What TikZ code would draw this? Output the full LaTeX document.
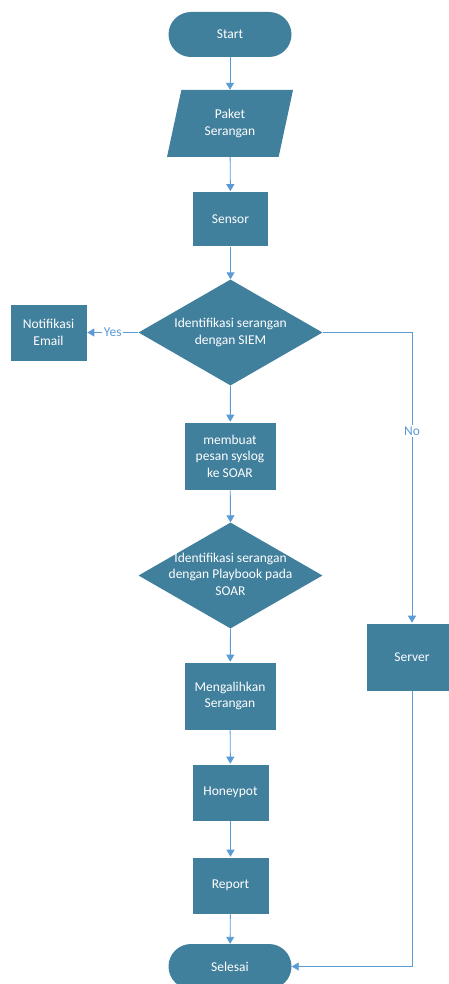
\documentclass[tikz,border=0pt]{standalone}
\usepackage{fontspec}
\setmainfont{Carlito}
\usetikzlibrary{shapes.geometric,arrows.meta}
\definecolor{boxfill}{HTML}{41809D}
\definecolor{flowline}{HTML}{5B9BD5}
\begin{document}
\begin{tikzpicture}[x=1pt,y=-1pt,
  every node/.style={font=\fontsize{13.5}{16.5}\selectfont, text=white, align=center, inner sep=0pt},
  terminal/.style={fill=boxfill, rounded corners=22.5pt, minimum width=123pt, minimum height=45pt},
  procbox/.style={fill=boxfill, draw=white, line width=0.6pt},
  iobox/.style={trapezium, trapezium left angle=63, trapezium right angle=117, trapezium stretches body,
    fill=boxfill, minimum width=126pt, minimum height=67pt},
  decision/.style={diamond, fill=boxfill, minimum width=184pt, minimum height=106pt},
  flow/.style={draw=flowline, line width=0.9pt, -{Triangle[width=8pt,length=7pt]}},
  tag/.style={text=flowline, fill=white, inner sep=1.5pt}
]
\useasboundingbox (0,0) rectangle (449,984);

\node[terminal] (start) at (230,34.5) {Start};
\node[iobox] (paket) at (230,123.5) {Paket\\Serangan};
\node[procbox, minimum width=76pt, minimum height=55pt] (sensor) at (230.5,219) {Sensor};
\node[decision] (d1) at (230.5,332.5) {};
\node (d1text) at (230.5,332.5) {Identifikasi serangan\\dengan SIEM};
\node[procbox, minimum width=77pt, minimum height=57pt] (notif) at (48.5,332.5) {Notifikasi\\Email};
\node[procbox, minimum width=92pt, minimum height=68pt] (syslog) at (230,456) {membuat\\pesan syslog\\ke SOAR};
\node[decision] (d2) at (230.5,575.5) {};
\node (d2text) at (230.5,574) {Identifikasi serangan\\dengan Playbook pada\\SOAR};
\node[procbox, minimum width=92pt, minimum height=68pt] (divert) at (230,696) {Mengalihkan\\Serangan};
\node[procbox, minimum width=77pt, minimum height=57pt] (honey) at (230.5,792.5) {Honeypot};
\node[procbox, minimum width=77pt, minimum height=57pt] (report) at (230.5,885.5) {Report};
\node[terminal] (end) at (230,966.5) {Selesai};
\node[procbox, minimum width=92pt, minimum height=68pt] (server) at (412,657) {Server};

\draw[flow] (start) -- (paket);
\draw[flow] (paket) -- (sensor);
\draw[flow] (sensor) -- (d1.north);
\draw[flow] (d1.west) -- node[tag] {Yes} (notif.east);
\draw[flow] (d1.east) -| node[tag, pos=0.67] {No} (server.north);
\draw[flow] (d1.south) -- (syslog);
\draw[flow] (syslog) -- (d2.north);
\draw[flow] (d2.south) -- (divert);
\draw[flow] (divert) -- (honey);
\draw[flow] (honey) -- (report);
\draw[flow] (report) -- (end);
\draw[flow] (server.south) |- (end.east);
\end{tikzpicture}
\end{document}
